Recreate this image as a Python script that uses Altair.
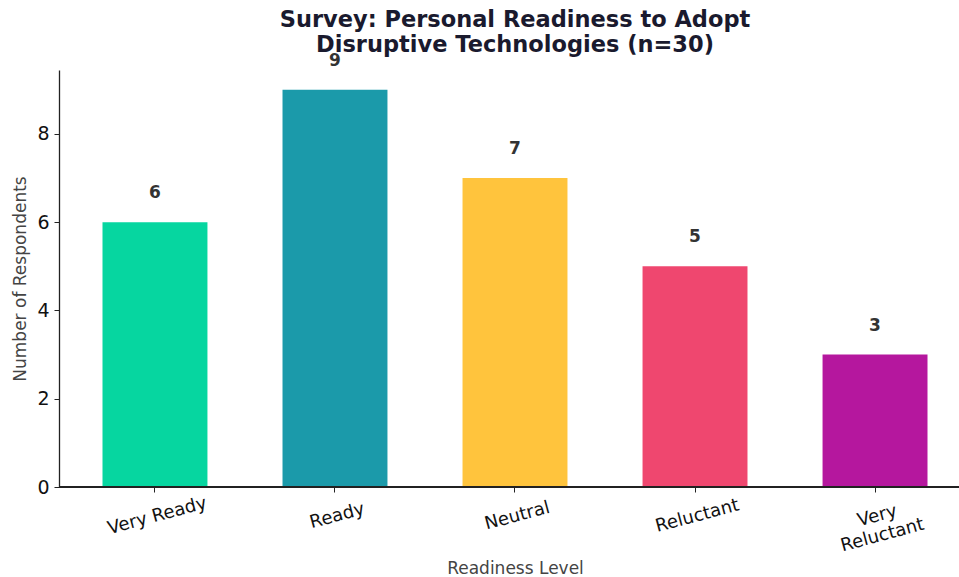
import altair as alt
import pandas as pd

levels = ["Very Ready", "Ready", "Neutral", "Reluctant", "Very Reluctant"]
counts = [6, 9, 7, 5, 3]
colors = ["#06D6A0", "#1B9AAA", "#FFC43D", "#EF476F", "#B5179E"]

df = pd.DataFrame({"level": levels, "count": counts})

FONT = "DejaVu Sans"
PLOT_W = 900
PLOT_H = 417

x = alt.X(
    "level:N",
    sort=levels,
    scale=alt.Scale(range=[43.5, 868.5], paddingInner=0.417, paddingOuter=0),
    axis=alt.Axis(
        title="Readiness Level",
        domain=False,
        labelAngle=345,
        labelAlign="center",
        labelBaseline="top",
        labelPadding=15,
        labelFontSize=18,
        labelColor="#111111",
        labelFont=FONT,
        labelExpr="datum.value == 'Very Reluctant' ? ['Very', 'Reluctant'] : datum.label",
        labelLineHeight=20,
        tickSize=5,
        tickColor="#222222",
        titleFontSize=17,
        titleFontWeight="normal",
        titleColor="#444444",
        titleFont=FONT,
        titleY=86,
        titleBaseline="alphabetic",
    ),
)

y = alt.Y(
    "count:Q",
    scale=alt.Scale(domain=[0, 9.45], nice=False),
    axis=alt.Axis(
        title="Number of Respondents",
        values=[0, 2, 4, 6, 8],
        grid=False,
        labelFontSize=19,
        labelColor="#111111",
        labelFont=FONT,
        labelPadding=5,
        tickSize=5,
        tickColor="#222222",
        domainColor="#222222",
        domainWidth=1.3,
        titleFontSize=17,
        titleFontWeight="normal",
        titleColor="#444444",
        titleFont=FONT,
        titleX=-30,
    ),
)

bars = alt.Chart(df).mark_bar().encode(
    x=x,
    y=y,
    color=alt.Color("level:N", scale=alt.Scale(domain=levels, range=colors), legend=None),
)

text = alt.Chart(df).mark_text(
    fontWeight="bold", fontSize=17, color="#333333", font=FONT, baseline="middle", dy=-29
).encode(
    x=alt.X("level:N", sort=levels),
    y=alt.Y("count:Q"),
    text="count:Q",
)

baseline = alt.Chart(df).mark_rule(color="#222222", strokeWidth=1.3).encode(
    x=alt.value(0), x2=alt.value(PLOT_W), y=alt.value(PLOT_H)
)

chart = (
    alt.layer(bars, text, baseline)
    .properties(
        width=PLOT_W,
        height=PLOT_H,
        background="white",
        autosize=alt.AutoSizeParams(type="none"),
        padding={"left": 59, "top": 70, "right": 0, "bottom": 90},
        title=alt.TitleParams(
            text=["Survey: Personal Readiness to Adopt", "Disruptive Technologies (n=30)"],
            fontSize=22.5,
            font=FONT,
            fontWeight="bold",
            color="#1a1a2e",
            anchor="middle",
            offset=-5,
            lineHeight=25,
            dx=6,
        ),
    )
    .configure_view(strokeWidth=0, stroke=None)
)

chart.save("out.html", embed_options={"renderer": "svg", "actions": False})
